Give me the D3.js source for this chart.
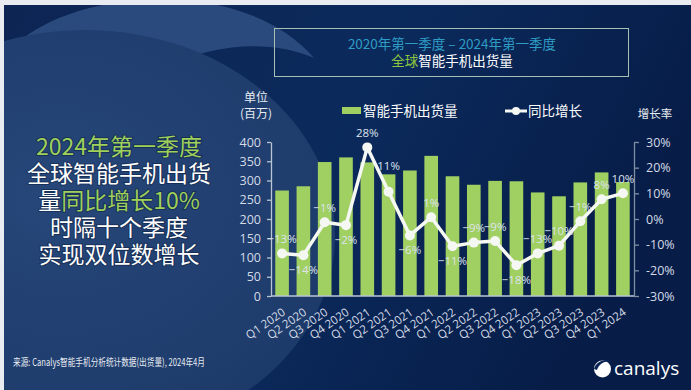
<!DOCTYPE html>
<html>
<head>
<meta charset="utf-8">
<script src="https://cdn.jsdelivr.net/npm/d3@7"></script>
<style>
  html, body { margin: 0; padding: 0; background: #0a2555; }
  svg { display: block; }
  .axis text { font-family: "Open Sans", "Noto Sans CJK SC", sans-serif; }
</style>
</head>
<body>
<div id="chart"></div>
<script>
const quarters = ['Q1 2020', 'Q2 2020', 'Q3 2020', 'Q4 2020', 'Q1 2021', 'Q2 2021', 'Q3 2021', 'Q4 2021',
  'Q1 2022', 'Q2 2022', 'Q3 2022', 'Q4 2022', 'Q1 2023', 'Q2 2023', 'Q3 2023', 'Q4 2023', 'Q1 2024']
const shipments = [274, 285, 348, 360, 347, 316, 326, 364, 311, 289, 299, 298, 269, 259, 295, 321, 296]
const growth = [-13.4, -14.1, -1.3, -2.4, 27.9, 10.6, -6.4, 0.7, -10.6, -9.2, -8.6, -18.0, -13.4, -10.4, -0.9, 7.7, 10.0]
// where each growth label sits relative to its point
const labelSide = ['up', 'down', 'up', 'down', 'up', 'up2', 'down', 'up', 'down', 'up', 'up', 'down', 'up', 'up', 'up', 'up', 'up']
const shipTicks = [0, 50, 100, 150, 200, 250, 300, 350, 400]
const growthTicks = [-30, -20, -10, 0, 10, 20, 30]

const W = 691
const H = 390
const plot = { left: 271, right: 634, top: 142, bottom: 296 }
const cjk = '"Noto Sans CJK SC", sans-serif'
const latin = '"Open Sans", "Noto Sans CJK SC", sans-serif'
const green = '#a0cf62'
const tickColor = '#d4dbe6'

const svg = d3.select('#chart').append('svg')
  .attr('width', W)
  .attr('height', H)

// background
const defs = svg.append('defs')
const bg = defs.append('linearGradient').attr('id', 'bg').attr('x1', 0).attr('y1', 0).attr('x2', 1).attr('y2', 0.3)
bg.append('stop').attr('offset', '0%').attr('stop-color', '#0d2553')
bg.append('stop').attr('offset', '55%').attr('stop-color', '#0b2a5c')
bg.append('stop').attr('offset', '100%').attr('stop-color', '#071d48')

const glow = defs.append('radialGradient').attr('id', 'glow').attr('cx', 0.45).attr('cy', 0.4).attr('r', 0.7)
glow.append('stop').attr('offset', '0%').attr('stop-color', '#27477a')
glow.append('stop').attr('offset', '100%').attr('stop-color', '#1b3867')

svg.append('rect').attr('width', W).attr('height', H).attr('fill', 'url(#bg)')
svg.append('path')
  .attr('d', 'M4,56 C60,-12 240,-28 314,58 C250,30 150,50 60,140 L4,190 Z')
  .attr('fill', '#2a4a7d')
svg.append('ellipse')
  .attr('cx', 85).attr('cy', 235).attr('rx', 250).attr('ry', 205)
  .attr('fill', 'url(#glow)')
svg.append('rect').attr('width', W).attr('height', 5).attr('fill', '#e9edf1')
svg.append('rect').attr('width', 4).attr('height', H).attr('fill', '#e9edf1')

// title box
svg.append('rect')
  .attr('x', 274.5).attr('y', 28.5).attr('width', 354).attr('height', 48)
  .attr('fill', 'none').attr('stroke', '#a8c0b4').attr('stroke-width', 1)
svg.append('text')
  .attr('x', 452).attr('y', 49)
  .attr('text-anchor', 'middle')
  .style('font-family', cjk).style('font-size', '13.5px')
  .attr('fill', '#2e9cc4')
  .text('2020年第一季度 – 2024年第一季度')
const t2 = svg.append('text')
  .attr('x', 452).attr('y', 66)
  .attr('text-anchor', 'middle')
  .style('font-family', cjk).style('font-size', '13.5px')
t2.append('tspan').attr('fill', '#8cc63f').text('全球')
t2.append('tspan').attr('fill', '#ffffff').text('智能手机出货量')

// left headline
const headline = [
  [['2024年第一季度', '#9fd05a']],
  [['全球智能手机出货', '#ffffff']],
  [['量', '#ffffff'], ['同比增长10%', '#9fd05a']],
  [['时隔十个季度', '#ffffff']],
  [['实现双位数增长', '#ffffff']]
]
headline.forEach((parts, i) => {
  const t = svg.append('text')
    .attr('x', 119).attr('y', 155 + i * 27)
    .attr('text-anchor', 'middle')
    .style('font-family', cjk).style('font-size', '23px')
    .style('paint-order', 'stroke').attr('stroke', 'rgba(0,10,30,0.35)').attr('stroke-width', 2)
  parts.forEach(p => t.append('tspan').attr('fill', p[1]).text(p[0]))
})

// scales
const x = d3.scaleBand()
  .domain(quarters)
  .range([plot.left, plot.right])
  .paddingInner(0.36)
  .paddingOuter(0.2)

const y = d3.scaleLinear()
  .domain([0, 400])
  .range([plot.bottom, plot.top])

const y2 = d3.scaleLinear()
  .domain([-30, 30])
  .range([plot.bottom, plot.top])

// bars
svg.append('g')
  .selectAll('rect')
  .data(shipments)
  .join('rect')
  .attr('x', (d, i) => x(quarters[i]))
  .attr('y', d => y(d))
  .attr('width', x.bandwidth())
  .attr('height', d => y(0) - y(d))
  .attr('fill', green)

// axes
const leftAxis = svg.append('g')
  .attr('class', 'axis')
  .attr('transform', 'translate(' + plot.left + ',0)')
  .call(d3.axisLeft(y).tickValues(shipTicks).tickSize(4).tickSizeOuter(0).tickPadding(6))
leftAxis.selectAll('path, line').attr('stroke', '#b8c6d4').attr('stroke-width', 1.3)
leftAxis.selectAll('text').attr('fill', tickColor).style('font-size', '12.5px')

const rightAxis = svg.append('g')
  .attr('class', 'axis')
  .attr('transform', 'translate(' + plot.right + ',0)')
  .call(d3.axisRight(y2).tickValues(growthTicks).tickFormat(d => d + '%').tickSize(5).tickSizeOuter(0).tickPadding(7))
rightAxis.selectAll('path, line').attr('stroke', '#7f8fa3').attr('stroke-width', 1.3)
rightAxis.selectAll('text').attr('fill', tickColor).style('font-size', '12.5px')

svg.append('line')
  .attr('x1', plot.left).attr('x2', plot.right)
  .attr('y1', plot.bottom).attr('y2', plot.bottom)
  .attr('stroke', '#b8c6d4').attr('stroke-width', 1.3)

svg.append('g')
  .selectAll('text')
  .data(quarters)
  .join('text')
  .attr('transform', d => 'translate(' + (x(d) + x.bandwidth() / 2 + 4) + ',314) rotate(-35)')
  .attr('text-anchor', 'end')
  .style('font-family', latin).style('font-size', '11.5px')
  .attr('fill', tickColor)
  .text(d => d)

// growth line
const line = d3.line()
  .x((d, i) => x(quarters[i]) + x.bandwidth() / 2)
  .y(d => y2(d))

svg.append('path')
  .datum(growth)
  .attr('d', line)
  .attr('fill', 'none')
  .attr('stroke', '#f5f7f3')
  .attr('stroke-width', 3.5)
  .attr('stroke-linejoin', 'round')

svg.append('g')
  .selectAll('circle')
  .data(growth)
  .join('circle')
  .attr('cx', (d, i) => x(quarters[i]) + x.bandwidth() / 2)
  .attr('cy', d => y2(d))
  .attr('r', 5)
  .attr('fill', '#f5f7f3')

const labelOffset = { up: -15, up2: -26, down: 14 }
svg.append('g')
  .selectAll('text')
  .data(growth)
  .join('text')
  .attr('x', (d, i) => x(quarters[i]) + x.bandwidth() / 2)
  .attr('y', (d, i) => y2(d) + labelOffset[labelSide[i]])
  .attr('text-anchor', 'middle')
  .attr('dominant-baseline', 'central')
  .style('font-family', latin).style('font-size', '11.5px')
  .attr('fill', '#dfe4ec')
  .text(d => d3.format('.0f')(d) + '%')

// legend
svg.append('text').attr('x', 256).attr('y', 102).attr('text-anchor', 'middle')
  .style('font-family', cjk).style('font-size', '12px').attr('fill', '#e6ebf1').text('单位')
svg.append('text').attr('x', 256).attr('y', 118).attr('text-anchor', 'middle')
  .style('font-family', cjk).style('font-size', '12px').attr('fill', '#e6ebf1').text('(百万)')

svg.append('rect').attr('x', 342).attr('y', 107).attr('width', 19).attr('height', 7).attr('fill', green)
svg.append('text').attr('x', 363).attr('y', 116)
  .style('font-family', cjk).style('font-size', '13.5px').attr('fill', '#ffffff').text('智能手机出货量')

svg.append('line').attr('x1', 505).attr('x2', 527).attr('y1', 111).attr('y2', 111)
  .attr('stroke', '#f5f7f3').attr('stroke-width', 3)
svg.append('circle').attr('cx', 516).attr('cy', 111).attr('r', 4).attr('fill', '#f5f7f3')
svg.append('text').attr('x', 528).attr('y', 116)
  .style('font-family', cjk).style('font-size', '13.5px').attr('fill', '#ffffff').text('同比增长')

svg.append('text').attr('x', 655).attr('y', 118).attr('text-anchor', 'middle')
  .style('font-family', cjk).style('font-size', '11.5px').attr('fill', '#e6ebf1').text('增长率')

// footer
svg.append('text')
  .attr('x', 13).attr('y', 366)
  .attr('textLength', 192).attr('lengthAdjust', 'spacingAndGlyphs')
  .style('font-family', cjk).style('font-size', '10.5px')
  .attr('fill', '#e6ebf1')
  .text('来源: Canalys智能手机分析统计数据(出货量), 2024年4月')

// canalys logo
svg.append('circle').attr('cx', 602.5).attr('cy', 369).attr('r', 8.5).attr('fill', '#ffffff')
svg.append('path')
  .attr('d', 'M594,369 C596,361 606,358 612,362 C606,360 599,363 597,370 Z')
  .attr('fill', '#0a2555')
svg.append('text')
  .attr('x', 614).attr('y', 375)
  .style('font-family', latin).style('font-size', '19px')
  .attr('fill', '#ffffff')
  .text('canalys')
</script>
</body>
</html>
